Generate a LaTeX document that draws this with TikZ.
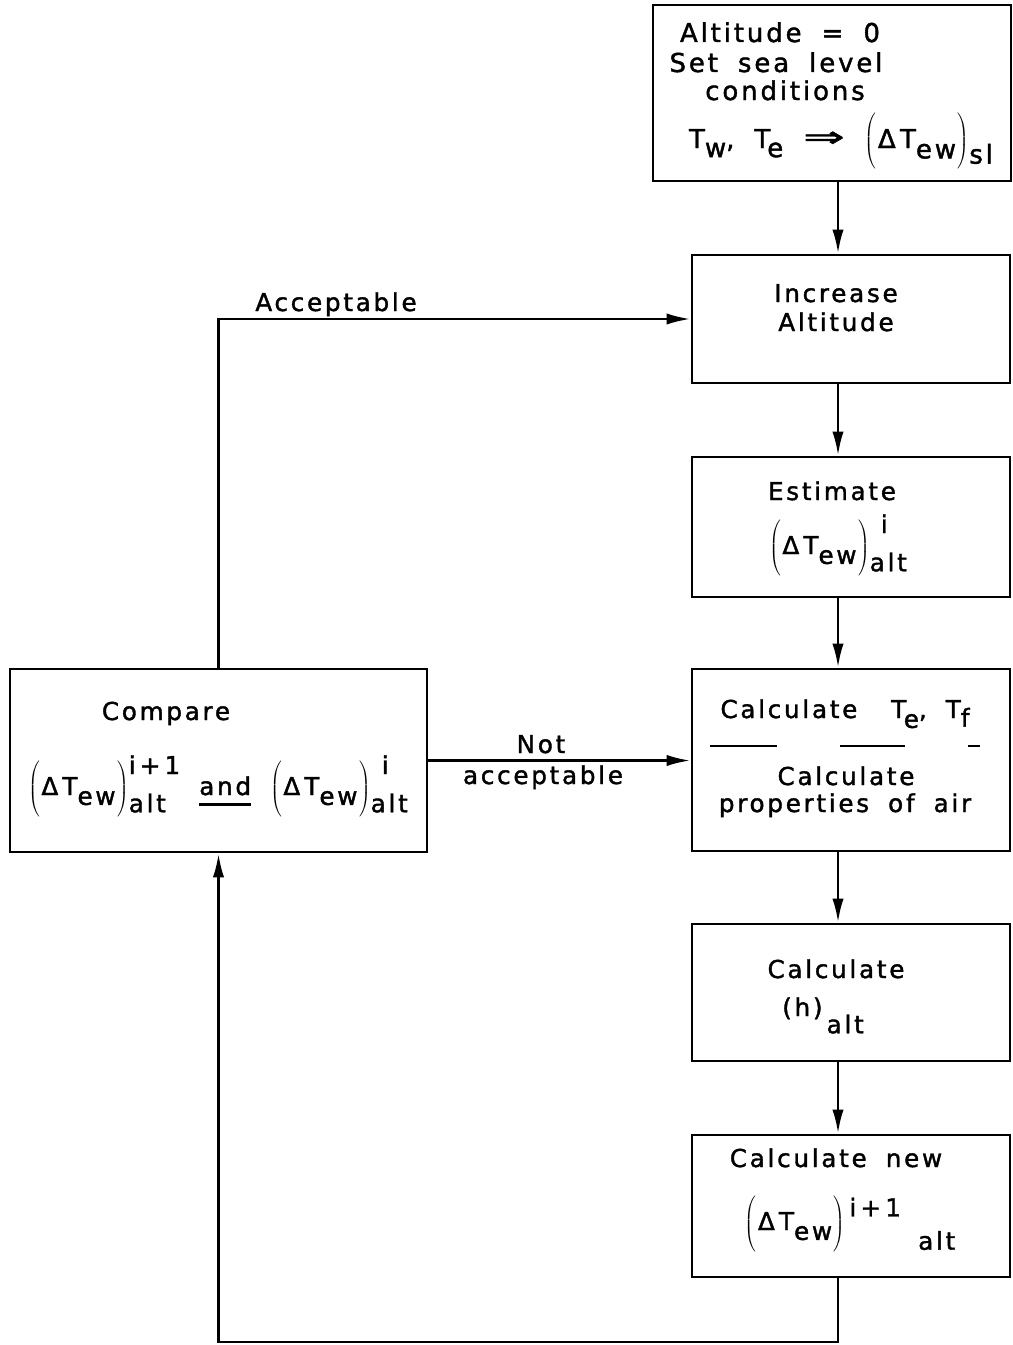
\documentclass[tikz,border=0pt]{standalone}
\usepackage{graphicx}
\usepackage{fontspec}
\setmainfont[LetterSpace=11,FakeBold=1.5,WordSpace=1.8]{DejaVu Sans}
\usetikzlibrary{arrows.meta,calc}
\newcommand\Lp{\ensuremath{\left(\vrule height 1.3em depth 0.9em width 0pt\right.}}
\newcommand\Rp{\ensuremath{\left.\vrule height 1.3em depth 0.9em width 0pt\right)}}
\newcommand\dT{\Lp Δ\,T\raisebox{-0.4em}{ew}\Rp}
\newcommand\stk[2]{\setbox1=\hbox{\raisebox{0.85em}{#1}}\setbox2=\hbox{\raisebox{-0.7em}{#2}}\ifdim\wd1>\wd2 \rlap{\box2}\box1\else\rlap{\box1}\box2\fi}
\newcommand\thickul[1]{\setbox0=\hbox{#1}\rlap{\rule[-0.45em]{\wd0}{2.6pt}}\box0}
\tikzset{
  box/.style={draw, line width=2.2pt, inner sep=0pt, minimum width=238.5pt},
  txt/.style={anchor=base, inner sep=0pt, font=\fontsize{18.5}{22}\selectfont},
  ttxt/.style={anchor=base, inner sep=0pt, font=\fontsize{19.5}{23}\selectfont},
  arr/.style={line width=2pt, -{Latex[length=18pt,width=8.5pt]}},
}
\begin{document}
\begin{tikzpicture}[x=0.75pt,y=-0.75pt]
\useasboundingbox (0,0) rectangle (1013,1345);
% boxes
\node[box, minimum width=268.5pt, minimum height=132pt] (top) at (832,93) {};
\node[box, minimum height=96pt] (inc) at (851,319) {};
\node[box, minimum height=105pt] (est) at (851,527) {};
\node[box, minimum height=136.5pt] (calc1) at (851,760) {};
\node[box, minimum height=102.75pt] (calch) at (851,992.5) {};
\node[box, minimum height=106.5pt] (calcnew) at (851,1206) {};
\node[box, minimum width=312.75pt, minimum height=137.25pt] (cmp) at (218.5,760.5) {};
% top box text
\node[ttxt] (t1) at (780,42) {Altitude = 0};
\node[ttxt] (t2) at (776,72) {Set sea level};
\node[ttxt] (t3) at (785,100) {conditions};
\node[ttxt] (t4) at (841,148) {T\raisebox{-0.35em}{w}, T\kern-0.12em\raisebox{-0.35em}{e} \raisebox{0.05em}{\scalebox{1.9}[1.1]{⇒}} \dT\raisebox{-0.6em}{sl}};
% increase
\node[txt] (i1) at (836,302) {Increase};
\node[txt] (i2) at (836,331) {Altitude};
% estimate
\node[txt] (e1) at (832,500) {Estimate};
\node[txt] (e2) at (838,554) {\dT\stk{\hspace{0.45em}i}{alt}};
% calc Te Tf
\node[txt] (c1) at (845,718) {Calculate\hspace{0.6em} T\kern-0.1em\raisebox{-0.4em}{e}, T\raisebox{-0.35em}{f}};
\draw[line width=1.5pt] (710,746) -- (777,746) (840,746) -- (905,746) (968,746) -- (980,746);
\node[txt] (c2) at (846,785) {Calculate};
\node[txt] (c3) at (845,812) {properties of air};
% calc h
\node[txt] (h1) at (836,978) {Calculate};
\node[txt] (h2) at (823,1016) {(h)\,\raisebox{-0.7em}{alt}};
% calc new
\node[txt] (n1) at (836,1167) {Calculate new};
\node[txt] (n2) at (850,1230) {\dT\,\raisebox{0.55em}{i\,+\,1}\hspace{0.7em}\raisebox{-0.8em}{alt}};
% compare
\node[txt] (m1) at (166,720) {Compare};
\node[txt] (m2) at (218,795) {\dT\stk{i\,+\,1}{alt}\ \thickul{and}\ \dT\stk{\hspace{0.45em}i}{alt}};
% connectors
\coordinate (vx) at (838,0);
\draw[arr] (top.south -| vx) -- (inc.north -| vx);
\draw[arr] (inc.south -| vx) -- (est.north -| vx);
\draw[arr] (est.south -| vx) -- (calc1.north -| vx);
\draw[arr] (calc1.south -| vx) -- (calch.north -| vx);
\draw[arr] (calch.south -| vx) -- (calcnew.north -| vx);
\coordinate (br) at (838,1342);
\coordinate (bl) at (218.5,1342);
\draw[arr] (calcnew.south -| br) -- (br) -- (bl) -- (cmp.south);
\draw[arr] (cmp.north) |- (inc.west);
\draw[arr] (cmp.east) -- (cmp.east -| calc1.west);
\node[txt] (acc) at (336,311) {Acceptable};
\node[txt] (na1) at (541,753) {Not};
\node[txt] (na2) at (543,784) {acceptable};
\end{tikzpicture}
\end{document}
